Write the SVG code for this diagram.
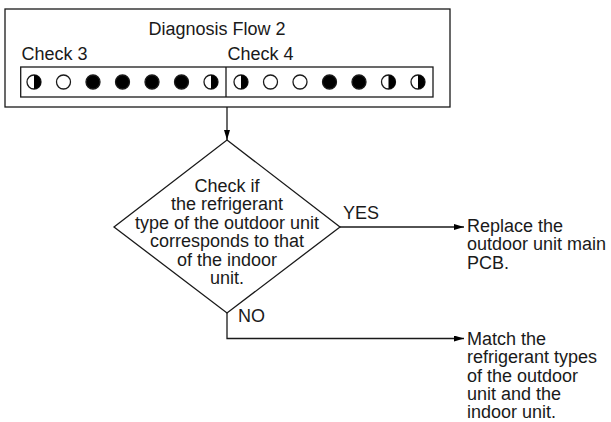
<svg xmlns="http://www.w3.org/2000/svg" width="611" height="422" viewBox="0 0 611 422">
<style>
text{font-family:"Liberation Sans",Arial,sans-serif;font-size:18px;fill:#1a1a1a}
.ln{fill:none;stroke:#1a1a1a;stroke-width:1.3}
.c{stroke:#1a1a1a;stroke-width:1.3}
.o{fill:#fff}
.f{fill:#000}
.mid{text-anchor:middle}
</style>
<defs>
<marker id="ah" markerUnits="userSpaceOnUse" markerWidth="11" markerHeight="7" refX="10" refY="3" orient="auto">
<path d="M0,0 L10,3 L0,6 Z" fill="#000"/>
</marker>
<g id="half"><circle r="7" class="c o"/><path d="M0,-7 A7,7 0 0 1 0,7 Z" fill="#000"/></g>
<circle id="open" r="7" class="c o"/>
<circle id="full" r="7" class="c f"/>
</defs>
<rect width="611" height="422" fill="#fff"/>
<g id="flow2">
<rect x="5" y="9" width="445" height="98" class="ln"/>
<text x="217" y="35" class="mid">Diagnosis Flow 2</text>
<text x="21.5" y="60">Check 3</text>
<text x="227.5" y="60">Check 4</text>
<rect x="20.7" y="67" width="412.3" height="30" class="ln"/>
<line x1="226" y1="67" x2="226" y2="97" class="ln"/>
<use href="#half" x="34" y="82"/>
<use href="#open" x="63.5" y="82"/>
<use href="#full" x="93" y="82"/>
<use href="#full" x="122.5" y="82"/>
<use href="#full" x="152" y="82"/>
<use href="#full" x="181.5" y="82"/>
<use href="#half" x="211" y="82"/>
<use href="#half" x="241" y="82"/>
<use href="#open" x="270.5" y="82"/>
<use href="#open" x="300" y="82"/>
<use href="#full" x="329.5" y="82"/>
<use href="#full" x="359" y="82"/>
<use href="#half" x="388.5" y="82"/>
<use href="#half" x="418" y="82"/>
</g>
<g id="decision">
<polygon points="227,140 340,227 227,313 114,227" class="ln"/>
<text class="mid" x="227" y="191.5">Check if</text>
<text class="mid" x="227" y="210">the refrigerant</text>
<text class="mid" x="227" y="228.5">type of the outdoor unit</text>
<text class="mid" x="227" y="247">corresponds to that</text>
<text class="mid" x="227" y="265.5">of the indoor</text>
<text class="mid" x="227" y="284">unit.</text>
</g>
<g id="replace">
<text x="467" y="231.5">Replace the</text>
<text x="467" y="250">outdoor unit main</text>
<text x="467" y="268.5">PCB.</text>
</g>
<g id="match">
<text x="467" y="345">Match the</text>
<text x="467" y="363.3">refrigerant types</text>
<text x="467" y="381.6">of the outdoor</text>
<text x="467" y="399.9">unit and the</text>
<text x="467" y="418.2">indoor unit.</text>
</g>
<g id="connectors">
<line x1="227" y1="107" x2="227" y2="140" class="ln" marker-end="url(#ah)"/>
<line x1="340" y1="227" x2="464" y2="227" class="ln" marker-end="url(#ah)"/>
<polyline points="227,313 227,338.5 464,338.5" class="ln" marker-end="url(#ah)"/>
<text x="343" y="218.5">YES</text>
<text x="238" y="321.5">NO</text>
</g>
</svg>
